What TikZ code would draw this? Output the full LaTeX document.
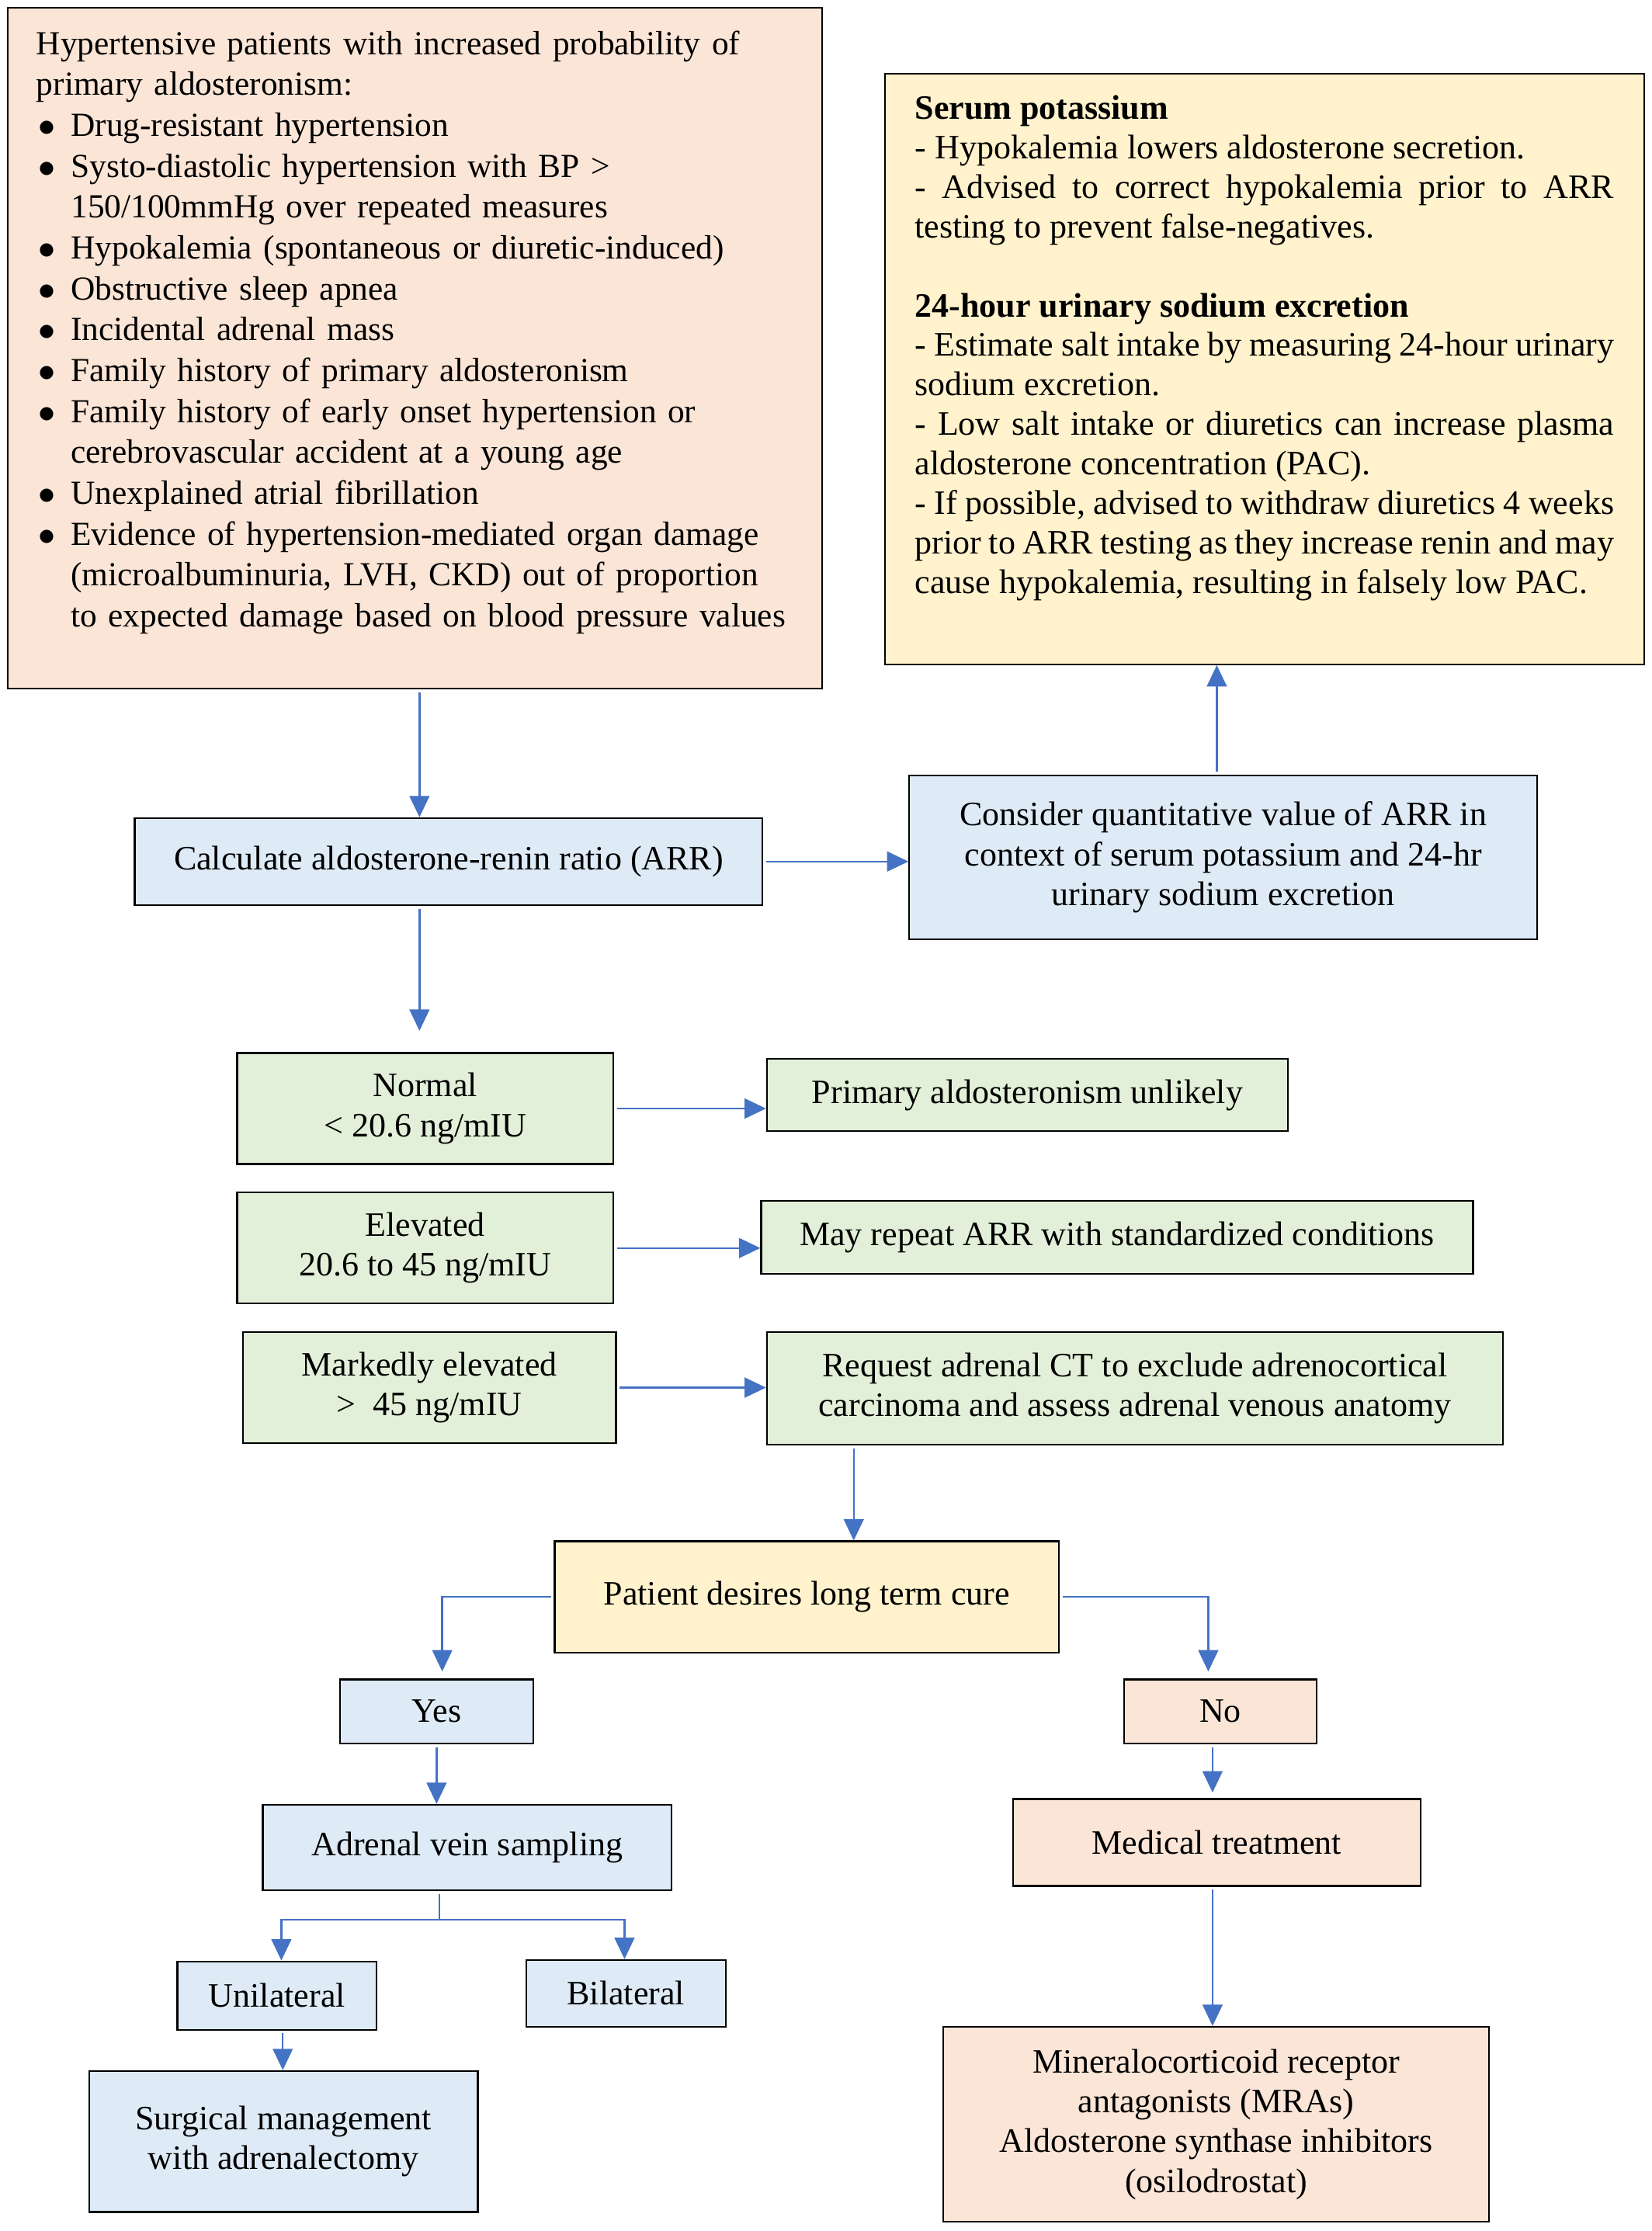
\documentclass[tikz,border=0pt]{standalone}
\usepackage{fontspec}
\setmainfont{Liberation Serif}
\usetikzlibrary{arrows.meta,positioning}
\definecolor{peach}{HTML}{FBE5D6}
\definecolor{cream}{HTML}{FFF2CC}
\definecolor{skyblue}{HTML}{DEEBF7}
\definecolor{mint}{HTML}{E2F0D9}
\definecolor{arrowblue}{HTML}{4472C4}
\newcommand{\bul}{\makebox[12.1pt][l]{\hspace{0.6pt}$\bullet$}}
\newcommand{\ind}{\hspace*{12.1pt}}

\begin{document}
\begin{tikzpicture}[->,>={Triangle[length=7.5pt,width=7pt]},shorten <=1pt,
                    x=0.5pt,y=-0.5pt,font=\fontsize{12}{14}\selectfont]
  \tikzstyle{box}=[draw=black,line width=0.6pt,inner sep=0pt,anchor=north west,align=center]
  \tikzstyle{flow}=[draw=arrowblue,line width=0.65pt]

  \useasboundingbox (0,0) rectangle (1160,1567);

  \node[box,fill=peach,text width=266pt,inner xsep=10pt,align=left,
        text height=16.3pt,text depth=222.7pt,font=\fontsize{11.83}{14.36}\selectfont] (crit) at (5,5)
       {Hypertensive patients with increased probability of\\
        primary aldosteronism:\\
        \bul Drug-resistant hypertension\\
        \bul Systo-diastolic hypertension with BP >\\
        \ind 150/100mmHg over repeated measures\\
        \bul Hypokalemia (spontaneous or diuretic-induced)\\
        \bul Obstructive sleep apnea\\
        \bul Incidental adrenal mass\\
        \bul Family history of primary aldosteronism\\
        \bul Family history of early onset hypertension or\\
        \ind cerebrovascular accident at a young age\\
        \bul Unexplained atrial fibrillation\\
        \bul Evidence of hypertension-mediated organ damage\\
        \ind (microalbuminuria, LVH, CKD) out of proportion\\
        \ind to expected damage based on blood pressure values};
  \node[box,fill=cream,text width=245.5pt,inner xsep=10.5pt,align=justify,
        text height=15.85pt,text depth=191.45pt,font=\fontsize{12}{13.88}\selectfont] (serum) at (621,51.4)
       {\textbf{Serum potassium}\par
        - Hypokalemia lowers aldosterone secretion.\par
        - Advised to correct hypokalemia prior to ARR\linebreak testing to prevent false-negatives.\par
        \mbox{}\par
        \textbf{24-hour urinary sodium excretion}\par
        - Estimate salt intake by measuring 24-hour urinary\linebreak sodium excretion.\par
        - Low salt intake or diuretics can increase plasma\linebreak aldosterone concentration (PAC).\par
        - If possible, advised to withdraw diuretics 4 weeks\linebreak prior to ARR testing as they increase renin and may\linebreak cause hypokalemia, resulting in falsely low PAC.};

  \node[box,fill=skyblue,minimum width=220.5pt,minimum height=30.5pt] (arr) at (94,574)
       {Calculate aldosterone-renin ratio (ARR)};
  \node[box,fill=skyblue,minimum width=220.5pt,minimum height=57.5pt] (cons) at (638,544)
       {Consider quantitative value of ARR in\\context of serum potassium and 24-hr\\urinary sodium excretion};

  \node[box,fill=mint,minimum width=132pt,minimum height=39pt] (normal) at (166,739) {Normal\\< 20.6 ng/mIU};
  \node[box,fill=mint,minimum width=183pt,minimum height=25.5pt] (unlikely) at (538,743) {Primary aldosteronism unlikely};
  \node[box,fill=mint,minimum width=132pt,minimum height=39pt] (elev) at (166,837) {Elevated\\20.6 to 45 ng/mIU};
  \node[box,fill=mint,minimum width=250pt,minimum height=25.5pt] (repeat) at (534,843) {May repeat ARR with standardized conditions};
  \node[box,fill=mint,minimum width=131pt,minimum height=39pt] (marked) at (170,935) {Markedly elevated\\> \ 45 ng/mIU};
  \node[box,fill=mint,minimum width=258.5pt,minimum height=39.5pt] (ct) at (538,935)
       {Request adrenal CT to exclude adrenocortical\\carcinoma and assess adrenal venous anatomy};

  \node[box,fill=cream,minimum width=177pt,minimum height=39pt] (cure) at (389,1082) {Patient desires long term cure};
  \node[box,fill=skyblue,minimum width=68pt,minimum height=22.5pt] (yes) at (238,1179) {Yes};
  \node[box,fill=peach,minimum width=67.5pt,minimum height=22.5pt] (no) at (789,1179) {No};
  \node[box,fill=skyblue,minimum width=143.5pt,minimum height=30pt] (avs) at (184,1267) {Adrenal vein sampling};
  \node[box,fill=skyblue,minimum width=70pt,minimum height=24pt] (uni) at (124,1377) {Unilateral};
  \node[box,fill=skyblue,minimum width=70pt,minimum height=23.5pt] (bi) at (369,1376) {Bilateral};
  \node[box,fill=skyblue,minimum width=136.5pt,minimum height=49.5pt] (surg) at (62,1454) {Surgical management\\with adrenalectomy};
  \node[box,fill=peach,minimum width=143pt,minimum height=30.5pt] (med) at (711,1263) {Medical treatment};
  \node[box,fill=peach,minimum width=191.5pt,minimum height=68.5pt] (mra) at (662,1423)
       {Mineralocorticoid receptor\\antagonists (MRAs)\\Aldosterone synthase inhibitors\\(osilodrostat)};

  \draw[flow] ([xshift=1.5pt]crit.south) -- ([xshift=1.5pt]crit.south |- arr.north);
  \draw[flow] (arr.east) -- (arr.east -| cons.west);
  \draw[flow] ([xshift=-2.25pt]cons.north) -- ([xshift=-2.25pt]cons.north |- serum.south);
  \draw[flow,shorten >=7.5pt] ([xshift=-10.25pt]arr.south) -- ([xshift=-10.25pt]arr.south |- normal.north);
  \draw[flow] (normal.east) -- (normal.east -| unlikely.west);
  \draw[flow] (elev.east) -- (elev.east -| repeat.west);
  \draw[flow] (marked.east) -- (marked.east -| ct.west);
  \draw[flow] ([xshift=-98.75pt]ct.south) -- ([xshift=-98.75pt]ct.south |- cure.north);
  \draw[flow,shorten >=2.5pt] (cure.west) -| ([xshift=2pt]yes.north);
  \draw[flow,shorten >=2.5pt] (cure.east) -| ([xshift=-4.25pt]no.north);
  \draw[flow] (yes.south) -- (yes.south |- avs.north);
  \draw[flow] ([xshift=-9.75pt]avs.south) -- ++(0,20) -| ([xshift=1.5pt]uni.north);
  \draw[flow] ([xshift=-9.75pt]avs.south) -- ++(0,20) -| ([xshift=-0.5pt]bi.north);
  \draw[flow] ([xshift=2pt]uni.south) -- ([xshift=2pt]uni.south |- surg.north);
  \draw[flow,shorten >=2pt] ([xshift=-2.75pt]no.south) -- ([xshift=-2.75pt]no.south |- med.north);
  \draw[flow] ([xshift=-1.5pt]med.south) -- ([xshift=-1.5pt]med.south |- mra.north);
\end{tikzpicture}
\end{document}
